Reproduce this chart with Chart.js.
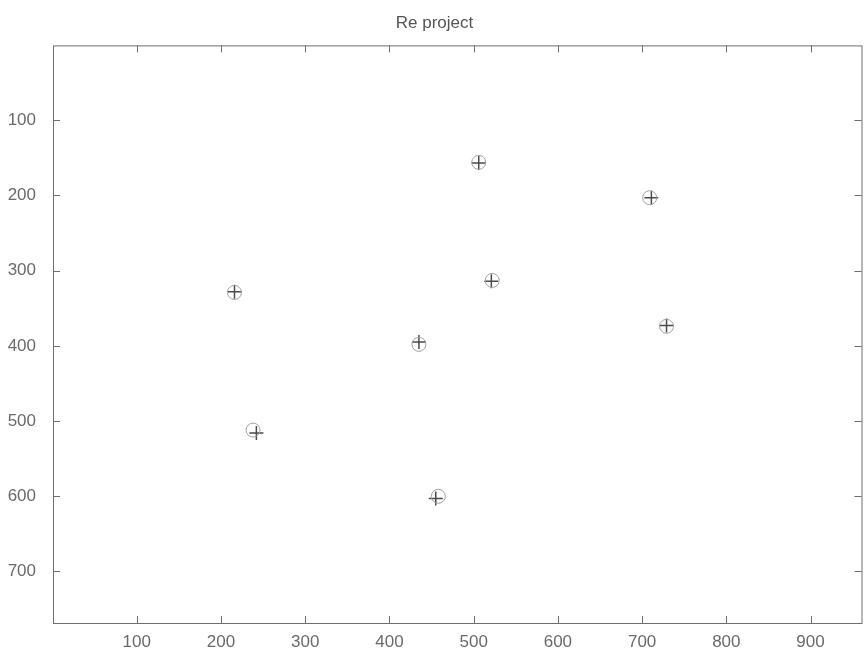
<!DOCTYPE html>
<html>
<head>
<meta charset="utf-8">
<title>Re project</title>
<script src="https://cdn.jsdelivr.net/npm/chart.js@4.4.1/dist/chart.umd.min.js"></script>
<style>
  html, body { margin: 0; padding: 0; background: #fff; overflow: hidden; }
  #myChart { display: block; width: 870px; height: 655px; }
</style>
</head>
<body>
<canvas id="myChart" width="870" height="655"></canvas>
<script>
// reprojected points (+) and detected points (o), image coordinates
const crossX = [216, 242, 435, 455, 506, 521, 711, 729];
const crossY = [328, 516, 395, 603, 157, 314, 203, 373];
const circleX = [216, 238, 435, 458, 506, 522, 709, 729];
const circleY = [329, 512, 398, 600, 156, 313, 203, 374];

const xTicks = [100, 200, 300, 400, 500, 600, 700, 800, 900];
const yTicks = [100, 200, 300, 400, 500, 600, 700];
const xRange = [0.5, 960.5];
const yRange = [0.5, 768.5];

const toPoints = (xs, ys) => xs.map((x, i) => ({ x: x, y: ys[i] }));

// matlab style box with ticks pointing inwards on all four sides
const boxPlugin = {
  id: "box",
  beforeDatasetsDraw(chart) {
    const { ctx, chartArea: a, scales } = chart;
    const len = 7;
    ctx.save();
    ctx.strokeStyle = "#6f6f6f";
    ctx.lineWidth = 1;
    ctx.strokeRect(a.left + 0.5, a.top + 0.5, a.right - a.left, a.bottom - a.top);
    ctx.beginPath();
    xTicks.forEach((v) => {
      const px = Math.round(scales.x.getPixelForValue(v)) + 0.5;
      ctx.moveTo(px, a.bottom);
      ctx.lineTo(px, a.bottom - len);
      ctx.moveTo(px, a.top);
      ctx.lineTo(px, a.top + len);
    });
    yTicks.forEach((v) => {
      const py = Math.round(scales.y.getPixelForValue(v)) + 0.5;
      ctx.moveTo(a.left, py);
      ctx.lineTo(a.left + len, py);
      ctx.moveTo(a.right, py);
      ctx.lineTo(a.right - len, py);
    });
    ctx.stroke();
    ctx.restore();
  },
};

const tickFont = { family: "'Liberation Sans', Arial, sans-serif", size: 17 };

new Chart(document.getElementById("myChart").getContext("2d"), {
  type: "scatter",
  data: {
    datasets: [
      {
        label: "o",
        data: toPoints(circleX, circleY),
        pointStyle: "circle",
        pointRadius: 7,
        borderColor: "#a0a0a0",
        backgroundColor: "rgba(0,0,0,0)",
        borderWidth: 1,
      },
      {
        label: "+",
        data: toPoints(crossX, crossY),
        pointStyle: "cross",
        pointRadius: 7,
        borderColor: "#4a4a4a",
        borderWidth: 1.5,
      },
    ],
  },
  options: {
    responsive: false,
    animation: false,
    devicePixelRatio: 1,
    layout: { padding: { left: 0, right: 1, top: 0, bottom: 0 } },
    plugins: {
      legend: { display: false },
      tooltip: { enabled: false },
      title: {
        display: true,
        text: "Re project",
        color: "#555",
        font: { family: "'Liberation Sans', Arial, sans-serif", size: 17, weight: "normal" },
        padding: { top: 13, bottom: 12 },
      },
    },
    scales: {
      x: {
        type: "linear",
        min: xRange[0],
        max: xRange[1],
        grid: { display: false },
        border: { display: false },
        afterBuildTicks: (s) => { s.ticks = xTicks.map((v) => ({ value: v })); },
        afterFit: (s) => { s.height = 32; },
        ticks: { color: "#6a6a6a", font: tickFont, padding: 1, maxRotation: 0 },
      },
      y: {
        type: "linear",
        reverse: true,
        min: yRange[0],
        max: yRange[1],
        grid: { display: false },
        border: { display: false },
        afterBuildTicks: (s) => { s.ticks = yTicks.map((v) => ({ value: v })); },
        afterFit: (s) => { s.width = 53; },
        ticks: { color: "#6a6a6a", font: tickFont, padding: 9 },
      },
    },
  },
  plugins: [boxPlugin],
});
</script>
</body>
</html>
